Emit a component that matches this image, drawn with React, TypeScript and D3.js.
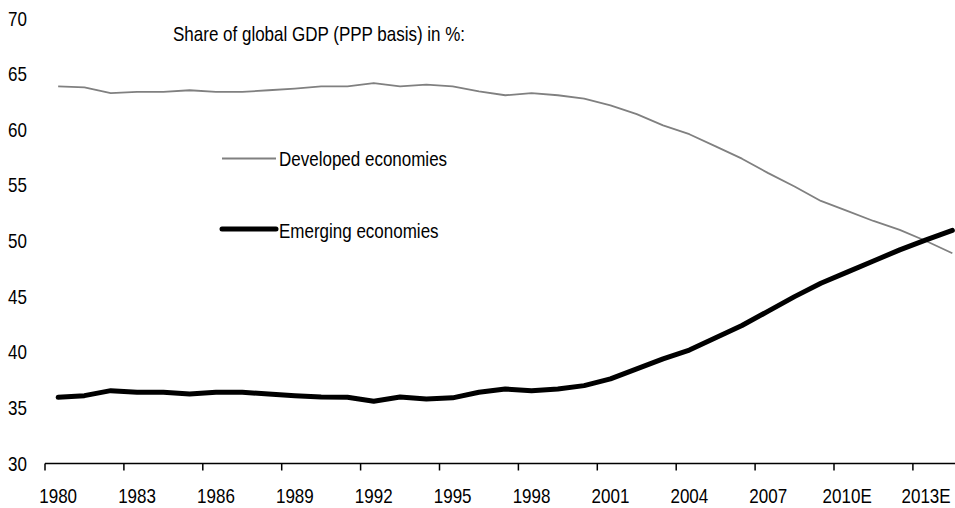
import React from "react";
import * as d3 from "d3";

// Categories (years); the last five are estimates
const categories = [
  "1980", "1981", "1982", "1983", "1984", "1985", "1986", "1987", "1988", "1989",
  "1990", "1991", "1992", "1993", "1994", "1995", "1996", "1997", "1998", "1999",
  "2000", "2001", "2002", "2003", "2004", "2005", "2006", "2007", "2008", "2009",
  "2010E", "2011E", "2012E", "2013E", "2014E",
];

// Share of global GDP (PPP basis), %
const developed = [
  63.9, 63.8, 63.3, 63.4, 63.4, 63.55, 63.4, 63.4, 63.55, 63.7,
  63.9, 63.9, 64.2, 63.9, 64.05, 63.9, 63.45, 63.1, 63.3, 63.1,
  62.8, 62.2, 61.4, 60.4, 59.6, 58.5, 57.4, 56.1, 54.9, 53.6,
  52.7, 51.8, 51.0, 50.0, 48.9,
];

const emerging = [
  35.95, 36.1, 36.55, 36.4, 36.4, 36.25, 36.4, 36.4, 36.25, 36.1,
  35.98, 35.95, 35.6, 35.98, 35.8, 35.9, 36.4, 36.7, 36.55, 36.7,
  37.0, 37.6, 38.5, 39.4, 40.2, 41.3, 42.4, 43.7, 45.0, 46.2,
  47.2, 48.2, 49.2, 50.1, 50.95,
];

const yTicks = [30, 35, 40, 45, 50, 55, 60, 65, 70];
const labelEvery = 3;

const title = "Share of global GDP (PPP basis) in %:";
const seriesNames = ["Developed economies", "Emerging economies"];

const W = 955;
const H = 508;
const FONT = "Arial, 'Liberation Sans', Helvetica, sans-serif";
const SQUEEZE = 0.85;

function Label(props: {
  x: number;
  y: number;
  text: string;
  anchor?: "start" | "middle" | "end";
}) {
  const { x, y, text, anchor = "start" } = props;
  return (
    <g transform={`translate(${x},${y}) scale(${SQUEEZE},1)`}>
      <text
        x={0}
        y={0}
        textAnchor={anchor}
        fontFamily={FONT}
        fontSize={20}
        fill="#000"
      >
        {text}
      </text>
    </g>
  );
}

export default function App() {
  const step = 26.3;
  const x = d3
    .scaleBand<string>()
    .domain(categories)
    .range([45, 45 + step * categories.length])
    .paddingInner(0)
    .paddingOuter(0);

  const y = d3.scaleLinear().domain([30, 70]).range([463.5, 18.5]);

  const cx = (c: string) => (x(c) ?? 0) + x.bandwidth() / 2;

  const line = d3
    .line<number>()
    .x((_, i) => cx(categories[i]))
    .y((v) => y(v))
    .curve(d3.curveLinear);

  const axisY = y(30);

  return (
    <svg
      width={W}
      height={H}
      style={{ position: "absolute", left: 0, top: 0, background: "#fff" }}
    >
      <rect x={0} y={0} width={W} height={H} fill="#fff" />

      {/* y-axis labels */}
      {yTicks.map((t) => (
        <Label key={t} x={27} y={y(t) + 7} text={String(t)} anchor="end" />
      ))}

      {/* x-axis */}
      <line
        x1={45}
        x2={W}
        y1={axisY}
        y2={axisY}
        stroke="#000"
        strokeWidth={1.5}
      />
      {categories.map((c, i) =>
        i % labelEvery === 0 ? (
          <g key={c}>
            <line
              x1={x(c)}
              x2={x(c)}
              y1={axisY}
              y2={axisY + 7}
              stroke="#000"
              strokeWidth={1.5}
            />
            <Label x={cx(c)} y={503} text={c} anchor="middle" />
          </g>
        ) : null
      )}

      {/* series */}
      <path
        d={line(developed) ?? ""}
        fill="none"
        stroke="#808080"
        strokeWidth={1.8}
        strokeLinejoin="round"
      />
      <path
        d={line(emerging) ?? ""}
        fill="none"
        stroke="#000"
        strokeWidth={5}
        strokeLinejoin="round"
        strokeLinecap="round"
      />

      {/* title */}
      <Label x={173} y={41} text={title} />

      {/* legend */}
      <line x1={222} x2={276} y1={158.5} y2={158.5} stroke="#808080" strokeWidth={1.8} />
      <Label x={279} y={166} text={seriesNames[0]} />
      <line
        x1={222}
        x2={276}
        y1={229}
        y2={229}
        stroke="#000"
        strokeWidth={5}
        strokeLinecap="round"
      />
      <Label x={279} y={238} text={seriesNames[1]} />
    </svg>
  );
}
